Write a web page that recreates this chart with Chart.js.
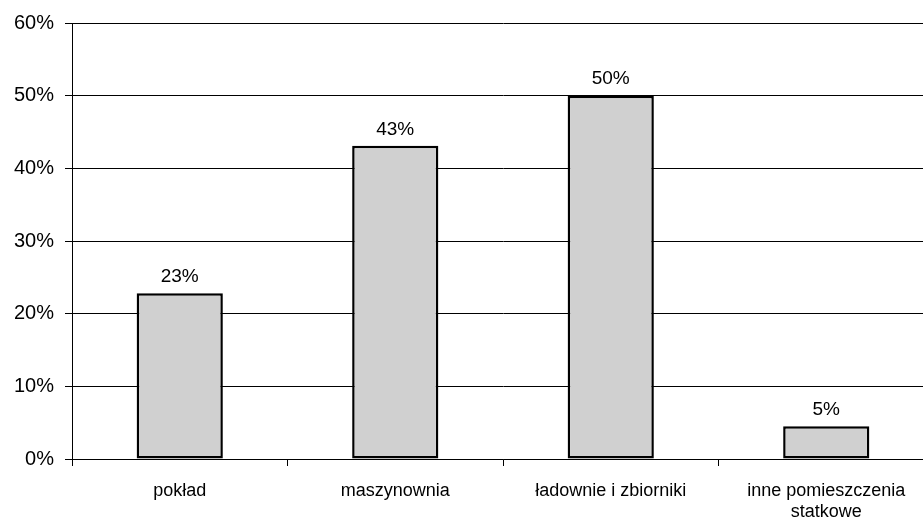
<!DOCTYPE html>
<html>
<head>
<meta charset="utf-8">
<script src="https://cdn.jsdelivr.net/npm/chart.js@4/dist/chart.umd.min.js"></script>
<style>
  html, body { margin: 0; padding: 0; background: #fff; overflow: hidden; }
  #wrap { width: 934px; height: 521px; }
</style>
</head>
<body>
<div id="wrap"><canvas id="myChart" width="934" height="521"></canvas></div>
<script>
const categories = ['pokład', 'maszynownia', 'ładownie i zbiorniki', ['inne pomieszczenia', 'statkowe']];
const shares = [22.8, 43.1, 50.0, 4.5];
const shareLabels = ['23%', '43%', '50%', '5%'];
const yTicks = [0, 10, 20, 30, 40, 50, 60];

const valueLabels = {
    id: 'valueLabels',
    afterDatasetsDraw(chart) {
        const ctx = chart.ctx;
        const meta = chart.getDatasetMeta(0);
        ctx.save();
        ctx.fillStyle = '#000';
        ctx.font = '19px "Liberation Sans", Arial, sans-serif';
        ctx.textAlign = 'center';
        ctx.textBaseline = 'bottom';
        meta.data.forEach((bar, i) => {
            ctx.fillText(shareLabels[i], bar.x, bar.y - 7);
        });
        ctx.restore();
    }
};

const ctx = document.getElementById('myChart');
new Chart(ctx, {
    type: 'bar',
    data: {
        labels: categories,
        datasets: [{
            data: shares,
            backgroundColor: '#d0d0d0',
            borderColor: '#000',
            borderWidth: 2.5,
            borderSkipped: false,
            barPercentage: 0.4,
            categoryPercentage: 1
        }]
    },
    options: {
        responsive: false,
        animation: false,
        layout: { padding: { top: 19, left: 0, right: 0, bottom: 0 } },
        plugins: {
            legend: { display: false },
            tooltip: { enabled: false }
        },
        scales: {
            x: {
                afterFit(scale) { scale.height = 62; },
                grid: {
                    offset: true,
                    drawOnChartArea: false,
                    tickLength: 7,
                    color: '#000'
                },
                border: { color: '#000', width: 1 },
                ticks: {
                    color: '#000',
                    padding: 14,
                    maxRotation: 0,
                    autoSkip: false,
                    font: { family: '"Liberation Sans", Arial, sans-serif', size: 18 }
                }
            },
            y: {
                min: 0,
                max: 60,
                afterFit(scale) { scale.width = 72; },
                afterBuildTicks(scale) { scale.ticks = yTicks.map(v => ({ value: v })); },
                grid: { color: '#000', tickLength: 7 },
                border: { color: '#000', width: 1 },
                ticks: {
                    color: '#000',
                    padding: 11,
                    font: { family: '"Liberation Sans", Arial, sans-serif', size: 20 },
                    callback: v => v + '%'
                }
            }
        }
    },
    plugins: [valueLabels]
});
</script>
</body>
</html>
